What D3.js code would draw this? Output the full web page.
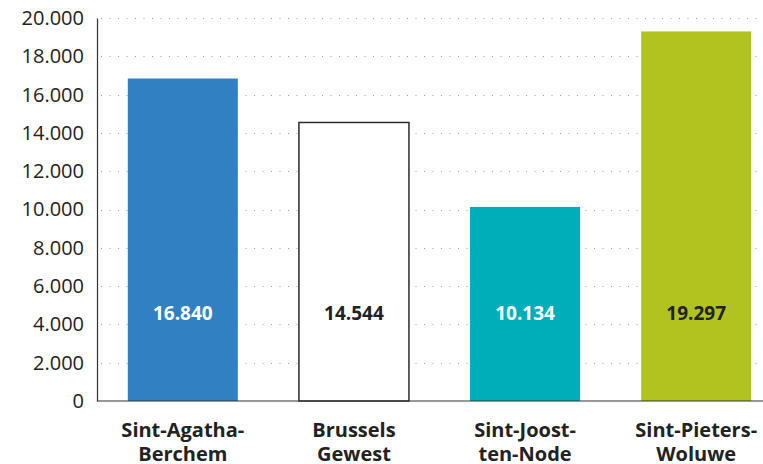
<!DOCTYPE html>
<html>
<head>
<meta charset="utf-8">
<script src="https://cdn.jsdelivr.net/npm/d3@7"></script>
<style>
  body { margin: 0; background: #fff; }
  svg text { font-family: "Open Sans", "Noto Sans", sans-serif; }
</style>
</head>
<body>
<div id="plot"></div>
<script>
const categories = [['Sint-Agatha-', 'Berchem'], ['Brussels', 'Gewest'], ['Sint-Joost-', 'ten-Node'], ['Sint-Pieters-', 'Woluwe']];
const values = [16840, 14544, 10134, 19297];
const fills = ['#3181c2', '#ffffff', '#00aeba', '#b1c31e'];
const labelColors = ['#ffffff', '#222222', '#ffffff', '#222222'];
const yTicks = d3.range(0, 20001, 2000);

const width = 763, height = 464;
const margin = {t: 18, r: 0, b: 63, l: 97};

const fmt = d => d3.format(',')(d).replace(/,/g, '.');

const svg = d3.select('#plot')
    .append('svg')
    .attr('width', width)
    .attr('height', height);

const x = d3.scaleBand()
    .domain(categories.map((d, i) => i))
    .range([margin.l, 782])
    .paddingInner(0.357)
    .paddingOuter(0.18);

const y = d3.scaleLinear()
    .domain([0, 20000])
    .range([height - margin.b, margin.t]);

// dotted gridlines
svg.append('g')
    .selectAll('line')
    .data(yTicks.filter(d => d > 0))
    .enter()
    .append('line')
    .attr('x1', margin.l + 4)
    .attr('x2', width)
    .attr('y1', d => Math.round(y(d)) + 0.5)
    .attr('y2', d => Math.round(y(d)) + 0.5)
    .attr('stroke', '#9a9a9a')
    .attr('stroke-width', 1)
    .attr('stroke-dasharray', '1,7.5');

// bars
svg.append('g')
    .selectAll('rect')
    .data(values)
    .enter()
    .append('rect')
    .attr('x', (d, i) => x(i))
    .attr('y', d => y(d))
    .attr('width', x.bandwidth())
    .attr('height', d => y(0) - y(d))
    .attr('fill', (d, i) => fills[i])
    .attr('stroke', (d, i) => i === 1 ? '#2b2b2b' : 'none')
    .attr('stroke-width', 1.5);

// value labels
svg.append('g')
    .selectAll('text')
    .data(values)
    .enter()
    .append('text')
    .attr('x', (d, i) => x(i) + x.bandwidth() / 2)
    .attr('y', 320)
    .attr('text-anchor', 'middle')
    .attr('font-size', 19)
    .attr('font-weight', 'bold')
    .attr('fill', (d, i) => labelColors[i])
    .text(fmt);

// y axis
const yAxis = svg.append('g')
    .attr('transform', `translate(${margin.l},0)`)
    .call(d3.axisLeft(y).tickValues(yTicks).tickSize(0).tickPadding(13).tickFormat(fmt));
yAxis.select('.domain').attr('stroke', '#333').attr('stroke-width', 1.2);
yAxis.selectAll('text')
    .attr('font-size', 20)
    .attr('fill', '#222')
    .attr('font-family', '"Open Sans", sans-serif');

// x baseline
svg.append('line')
    .attr('x1', margin.l)
    .attr('x2', width)
    .attr('y1', y(0))
    .attr('y2', y(0))
    .attr('stroke', '#333')
    .attr('stroke-width', 1.2);

// category labels
const cat = svg.append('g')
    .selectAll('text')
    .data(categories)
    .enter()
    .append('text')
    .attr('text-anchor', 'middle')
    .attr('font-size', 20)
    .attr('font-weight', 'bold')
    .attr('fill', '#222');

cat.selectAll('tspan')
    .data((d, i) => d.map(line => ({line, i})))
    .enter()
    .append('tspan')
    .attr('x', d => x(d.i) + x.bandwidth() / 2)
    .attr('y', (d, j) => 437 + j * 24)
    .text(d => d.line);
</script>
</body>
</html>
